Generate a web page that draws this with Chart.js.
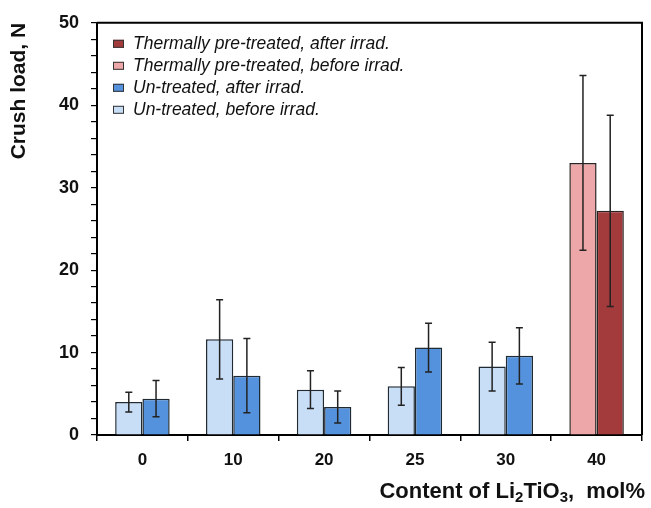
<!DOCTYPE html>
<html>
<head>
<meta charset="utf-8">
<script src="https://cdn.jsdelivr.net/npm/chart.js@4.4.0/dist/chart.umd.min.js"></script>
<style>
    html, body { margin: 0; padding: 0; background: #fff; }
    #wrap { width: 651px; height: 508px; }
</style>
</head>
<body>
<div id="wrap"><canvas id="crushChart" width="651" height="508"></canvas></div>
<script>
// Li2TiO3 content, mol%
const categories = ['0', '10', '20', '25', '30', '40'];

// crush load, N
const untreatedBefore = [4.0, 11.6, 5.5, 5.9, 8.3, null];
const untreatedAfter = [4.4, 7.2, 3.4, 10.6, 9.6, null];
const thermalBefore = [null, null, null, null, null, 33.0];
const thermalAfter = [null, null, null, null, null, 27.2];

// error bar half widths
const untreatedBeforeErr = [1.2, 4.8, 2.3, 2.3, 2.95, null];
const untreatedAfterErr = [2.2, 4.5, 1.95, 2.95, 3.4, null];
const thermalBeforeErr = [null, null, null, null, null, 10.6];
const thermalAfterErr = [null, null, null, null, null, 11.6];

const yTicks = [0, 10, 20, 30, 40, 50];

const FONT = 'Arial, "Liberation Sans", sans-serif';

// error bars drawn over the bars
const errorBarPlugin = {
    id: 'errorBars',
    afterDatasetsDraw(chart) {
        const ctx = chart.ctx;
        const yScale = chart.scales.y;
        ctx.save();
        ctx.strokeStyle = '#222';
        ctx.lineWidth = 1.5;
        chart.data.datasets.forEach((ds, di) => {
            const meta = chart.getDatasetMeta(di);
            if (meta.hidden) return;
            meta.data.forEach((bar, i) => {
                const v = ds.data[i];
                const e = ds.errors[i];
                if (v == null || e == null) return;
                const yTop = yScale.getPixelForValue(v + e);
                const yBot = yScale.getPixelForValue(v - e);
                const cap = 3.5;
                ctx.beginPath();
                ctx.moveTo(bar.x, yTop);
                ctx.lineTo(bar.x, yBot);
                ctx.moveTo(bar.x - cap, yTop);
                ctx.lineTo(bar.x + cap, yTop);
                ctx.moveTo(bar.x - cap, yBot);
                ctx.lineTo(bar.x + cap, yBot);
                ctx.stroke();
            });
        });
        ctx.restore();
    }
};

// frame, legend inside the plot and x title with subscripts
const decorPlugin = {
    id: 'decor',
    afterDraw(chart) {
        const ctx = chart.ctx;
        const area = chart.chartArea;
        ctx.save();

        // top and right frame lines
        ctx.strokeStyle = '#000';
        ctx.lineWidth = 2;
        ctx.beginPath();
        ctx.moveTo(area.left, area.top);
        ctx.lineTo(area.right, area.top);
        ctx.lineTo(area.right, area.bottom);
        ctx.stroke();

        // legend (reverse order)
        const items = chart.data.datasets.slice().reverse();
        ctx.font = 'italic 17.5px ' + FONT;
        ctx.textBaseline = 'middle';
        ctx.textAlign = 'left';
        items.forEach((ds, k) => {
            const y = area.top + 21 + k * 22;
            const x = area.left + 16;
            ctx.fillStyle = ds.backgroundColor;
            ctx.fillRect(x, y - 4, 11, 8);
            ctx.lineWidth = 1;
            ctx.strokeStyle = '#333';
            ctx.strokeRect(x + 0.5, y - 3.5, 10, 7);
            ctx.fillStyle = '#111';
            ctx.fillText(ds.label, x + 20, y);
        });

        // x axis title: Content of Li2TiO3, mol%
        const parts = [
            { t: 'Content of Li', sub: false },
            { t: '2', sub: true },
            { t: 'TiO', sub: false },
            { t: '3', sub: true },
            { t: ',  mol%', sub: false }
        ];
        const big = 'bold 22px ' + FONT;
        const small = 'bold 15px ' + FONT;
        let total = 0;
        parts.forEach(p => {
            ctx.font = p.sub ? small : big;
            p.w = ctx.measureText(p.t).width;
            total += p.w;
        });
        let x = 645 - total;
        const base = 498;
        ctx.fillStyle = '#111';
        ctx.textBaseline = 'alphabetic';
        parts.forEach(p => {
            ctx.font = p.sub ? small : big;
            ctx.fillText(p.t, x, p.sub ? base + 4 : base);
            x += p.w;
        });

        ctx.restore();
    }
};

const chartEl = document.getElementById('crushChart').getContext('2d');

new Chart(chartEl, {
    type: 'bar',
    data: {
        labels: categories,
        datasets: [
            {
                label: 'Un-treated, before irrad.',
                data: untreatedBefore,
                errors: untreatedBeforeErr,
                backgroundColor: '#C8DEF7',
                borderColor: '#1f2a33',
                borderWidth: 1.5,
                skipNull: true
            },
            {
                label: 'Un-treated, after irrad.',
                data: untreatedAfter,
                errors: untreatedAfterErr,
                backgroundColor: '#5592DD',
                borderColor: '#1f2a33',
                borderWidth: 1.5,
                skipNull: true
            },
            {
                label: 'Thermally pre-treated, before irrad.',
                data: thermalBefore,
                errors: thermalBeforeErr,
                backgroundColor: '#EEA7A8',
                borderColor: '#2a2222',
                borderWidth: 1.5,
                skipNull: true
            },
            {
                label: 'Thermally pre-treated, after irrad.',
                data: thermalAfter,
                errors: thermalAfterErr,
                backgroundColor: '#A33A3B',
                borderColor: '#2a2222',
                borderWidth: 1.5,
                skipNull: true
            }
        ]
    },
    options: {
        responsive: false,
        animation: false,
        devicePixelRatio: 1,
        categoryPercentage: 0.6,
        barPercentage: 1.0,
        layout: {
            padding: { top: 18, right: 9, left: 0, bottom: 0 }
        },
        plugins: {
            legend: { display: false },
            tooltip: { enabled: false }
        },
        scales: {
            x: {
                afterFit: function (scale) { scale.height = 73; },
                grid: {
                    offset: true,
                    drawOnChartArea: false,
                    tickLength: 6,
                    color: '#000',
                    lineWidth: 1.5
                },
                border: { color: '#000', width: 2 },
                ticks: {
                    color: '#111',
                    padding: 9,
                    font: { family: FONT, size: 17, weight: 'bold' }
                }
            },
            y: {
                min: 0,
                max: 50,
                afterFit: function (scale) { scale.width = 97; },
                grid: {
                    drawOnChartArea: false,
                    tickLength: 6,
                    color: '#000',
                    lineWidth: 1.2
                },
                border: { color: '#000', width: 2 },
                ticks: {
                    stepSize: 2,
                    autoSkip: false,
                    color: '#111',
                    padding: 12,
                    font: { family: FONT, size: 18, weight: 'bold' },
                    callback: function (value) {
                        return yTicks.includes(value) ? value : '';
                    }
                },
                title: {
                    display: true,
                    text: 'Crush load, N',
                    align: 'end',
                    color: '#111',
                    padding: { top: 7, bottom: 0 },
                    font: { family: FONT, size: 21, weight: 'bold' }
                }
            }
        }
    },
    plugins: [errorBarPlugin, decorPlugin]
});
</script>
</body>
</html>
